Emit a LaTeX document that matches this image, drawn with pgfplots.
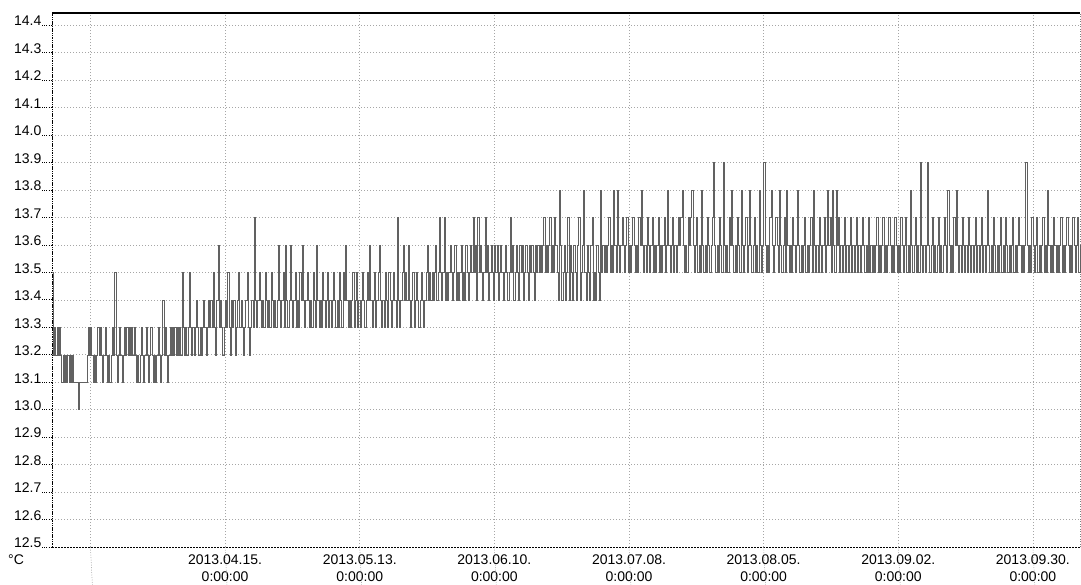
\documentclass[border=0pt]{standalone}
\usepackage{pgfplots}
\pgfplotsset{compat=1.18}
\usepackage{fontspec}
\setmainfont{Liberation Sans}
\begin{document}
\begin{tikzpicture}[x=1pt,y=1pt]
\useasboundingbox (0,0) rectangle (1081,585);
\begin{axis}[
  at={(52pt,38pt)}, anchor=south west,
  scale only axis, width=1028pt, height=534pt,
  xmin=-36, xmax=177.8, ymin=12.5, ymax=14.4436,
  xtick={0,28,56,84,112,140,168},
  xticklabels={{2013.04.15.\\0:00:00},{2013.05.13.\\0:00:00},{2013.06.10.\\0:00:00},{2013.07.08.\\0:00:00},{2013.08.05.\\0:00:00},{2013.09.02.\\0:00:00},{2013.09.30.\\0:00:00}},
  extra x ticks={-28}, extra x tick labels={},
  extra x tick style={grid=major},
  xticklabel style={align=center, font=\fontsize{14}{17}\selectfont, inner sep=1pt, yshift=3.5pt},
  ytick={12.5,12.6,12.7,12.8,12.9,13.0,13.1,13.2,13.3,13.4,13.5,13.6,13.7,13.8,13.9,14.0,14.1,14.2,14.3,14.4},
  yticklabel style={font=\fontsize{14}{16}\selectfont, inner sep=0.5pt, yshift=4pt, /pgf/number format/.cd, fixed, fixed zerofill, precision=1, assume math mode=true},
  tick pos=left, tick align=outside,
  x tick style={draw=none},
  y tick style={black, dotted, line width=0.6pt},
  major tick length=10pt,
  grid=major,
  major grid style={gray!70, dash pattern=on 1pt off 2pt, line width=0.5pt},
  axis line style={draw=none},
  clip=false,
]
% frame
\draw[black, line width=1.2pt] (rel axis cs:0,1) -- (rel axis cs:1,1);
\draw[black, line width=0.7pt, dash pattern=on 1.5pt off 0.8pt] (rel axis cs:0,0) -- (rel axis cs:0,1);
\draw[black, line width=0.7pt, dash pattern=on 2pt off 1pt] (rel axis cs:0,0) -- (rel axis cs:1,0);
\draw[gray, line width=0.5pt, dash pattern=on 1pt off 1.5pt] (rel axis cs:1,0) -- (rel axis cs:1,1);
% grid lines continuing through the date labels
\draw[gray!80, dash pattern=on 1pt off 1.5pt, line width=0.5pt] (axis cs:-28,12.5) -- ++(0,-16pt);
\draw[gray!80, dash pattern=on 1pt off 1.5pt, line width=0.5pt] (axis cs:0,12.5) -- ++(0,-38pt);
\draw[gray!80, dash pattern=on 1pt off 1.5pt, line width=0.5pt] (axis cs:28,12.5) -- ++(0,-38pt);
\draw[gray!80, dash pattern=on 1pt off 1.5pt, line width=0.5pt] (axis cs:56,12.5) -- ++(0,-38pt);
\draw[gray!80, dash pattern=on 1pt off 1.5pt, line width=0.5pt] (axis cs:84,12.5) -- ++(0,-38pt);
\draw[gray!80, dash pattern=on 1pt off 1.5pt, line width=0.5pt] (axis cs:112,12.5) -- ++(0,-38pt);
\draw[gray!80, dash pattern=on 1pt off 1.5pt, line width=0.5pt] (axis cs:140,12.5) -- ++(0,-38pt);
\draw[gray!80, dash pattern=on 1pt off 1.5pt, line width=0.5pt] (axis cs:168,12.5) -- ++(0,-38pt);
\addplot[const plot, black!62, line width=0.4pt] coordinates {
(-36,13.5) (-35.75,13.2) (-35.5,13.3) (-35.25,13.2) (-35,13.3) (-34.75,13.2) (-34.5,13.3) (-34.25,13.2)
(-34,13.1) (-33.75,13.2) (-33.5,13.1) (-33.25,13.2) (-33,13.1) (-32.75,13.2) (-32.5,13.1) (-32.25,13.2) (-32,13.1) (-31.75,13.2)
(-31.5,13.1) (-31.25,13.1) (-31,13.1) (-30.75,13.1) (-30.5,13.0) (-30.25,13.1) (-30,13.1) (-29.75,13.1) (-29.5,13.1) (-29.25,13.1) (-29,13.1) (-28.75,13.2)
(-28.5,13.3) (-28.25,13.2) (-28,13.3) (-27.75,13.2) (-27.5,13.1) (-27.25,13.2) (-27,13.1) (-26.75,13.2) (-26.5,13.3) (-26.25,13.2)
(-26,13.3) (-25.75,13.2) (-25.5,13.1) (-25.25,13.2) (-25,13.3) (-24.75,13.2) (-24.5,13.1) (-24.25,13.2) (-24,13.1) (-23.75,13.2)
(-23.5,13.3) (-23.25,13.2) (-23,13.5) (-22.75,13.2) (-22.5,13.1) (-22.25,13.2) (-22,13.3) (-21.75,13.2) (-21.5,13.1) (-21.25,13.2)
(-21,13.3) (-20.75,13.2) (-20.5,13.3) (-20.25,13.2) (-20,13.3) (-19.75,13.2) (-19.5,13.3) (-19.25,13.2) (-19,13.3) (-18.75,13.2)
(-18.5,13.1) (-18.25,13.2) (-18,13.1) (-17.75,13.2) (-17.5,13.3) (-17.25,13.2) (-17,13.1) (-16.75,13.2) (-16.5,13.3) (-16.25,13.2)
(-16,13.1) (-15.75,13.2) (-15.5,13.3) (-15.25,13.2) (-15,13.1) (-14.75,13.2) (-14.5,13.1) (-14.25,13.2) (-14,13.3) (-13.75,13.2)
(-13.5,13.1) (-13.25,13.2) (-13,13.4) (-12.75,13.2) (-12.5,13.3) (-12.25,13.2) (-12,13.1) (-11.75,13.2) (-11.5,13.3) (-11.25,13.2)
(-11,13.3) (-10.75,13.2) (-10.5,13.3) (-10.25,13.2) (-10,13.3) (-9.75,13.2) (-9.5,13.3) (-9.25,13.2)
(-9,13.5) (-8.75,13.3) (-8.5,13.2) (-8.25,13.3) (-8,13.2) (-7.75,13.3) (-7.5,13.5) (-7.25,13.3)
(-7,13.2) (-6.75,13.3) (-6.5,13.2) (-6.25,13.3) (-6,13.4) (-5.75,13.3) (-5.5,13.2) (-5.25,13.3)
(-5,13.2) (-4.75,13.3) (-4.5,13.4) (-4.25,13.3) (-4,13.2) (-3.75,13.3) (-3.5,13.4) (-3.25,13.3) (-3,13.4) (-2.75,13.3)
(-2.5,13.5) (-2.25,13.3) (-2,13.2) (-1.75,13.4) (-1.5,13.6) (-1.25,13.3) (-1,13.4) (-0.75,13.3) (-0.5,13.2) (-0.25,13.3)
(0,13.4) (0.25,13.3) (0.5,13.5) (0.75,13.3) (1,13.2) (1.25,13.4) (1.5,13.3) (1.75,13.4) (2,13.2) (2.25,13.3)
(2.5,13.4) (2.75,13.5) (3,13.3) (3.25,13.4) (3.5,13.3) (3.75,13.2) (4,13.3) (4.25,13.4) (4.5,13.5) (4.75,13.3)
(5,13.2) (5.25,13.3) (5.5,13.4) (5.75,13.3)
(6,13.7) (6.25,13.4) (6.5,13.3) (6.75,13.4) (7,13.5) (7.25,13.4) (7.5,13.3) (7.75,13.4) (8,13.3) (8.25,13.5)
(8.5,13.4) (8.75,13.3) (9,13.4) (9.25,13.3) (9.5,13.5) (9.75,13.4) (10,13.3) (10.25,13.4) (10.5,13.3) (10.75,13.4)
(11,13.6) (11.25,13.4) (11.5,13.3) (11.75,13.4) (12,13.5) (12.25,13.3) (12.5,13.6) (12.75,13.4) (13,13.3) (13.25,13.4)
(13.5,13.6) (13.75,13.4) (14,13.3) (14.25,13.4) (14.5,13.5) (14.75,13.3) (15,13.4) (15.25,13.3) (15.5,13.5) (15.75,13.4)
(16,13.6) (16.25,13.4) (16.5,13.3) (16.75,13.4) (17,13.5) (17.25,13.4) (17.5,13.3) (17.75,13.4) (18,13.3) (18.25,13.5)
(18.5,13.4) (18.75,13.3) (19,13.6) (19.25,13.4) (19.5,13.3) (19.75,13.4) (20,13.3) (20.25,13.5) (20.5,13.4) (20.75,13.3)
(21,13.4) (21.25,13.5) (21.5,13.3) (21.75,13.4) (22,13.3) (22.25,13.4) (22.5,13.5) (22.75,13.4) (23,13.3) (23.25,13.4)
(23.5,13.3) (23.75,13.5) (24,13.4) (24.25,13.3) (24.5,13.5) (24.75,13.4) (25,13.6) (25.25,13.4) (25.5,13.3) (25.75,13.4)
(26,13.3) (26.25,13.4) (26.5,13.5) (26.75,13.3) (27,13.4) (27.25,13.5) (27.5,13.3) (27.75,13.4) (28,13.3) (28.25,13.4)
(28.5,13.5) (28.75,13.4) (29,13.3) (29.25,13.4) (29.5,13.5) (29.75,13.4) (30,13.6) (30.25,13.4) (30.5,13.3) (30.75,13.4)
(31,13.5) (31.25,13.3) (31.5,13.4) (31.75,13.5) (32,13.6) (32.25,13.4) (32.5,13.3) (32.75,13.4) (33,13.3) (33.25,13.5)
(33.5,13.4) (33.75,13.3) (34,13.5) (34.25,13.4) (34.5,13.3) (34.75,13.4) (35,13.5) (35.25,13.4) (35.5,13.3) (35.75,13.7)
(36,13.4) (36.25,13.3) (36.5,13.4) (36.75,13.5) (37,13.6) (37.25,13.4) (37.5,13.5) (37.75,13.4) (38,13.6) (38.25,13.4)
(38.5,13.3) (38.75,13.4) (39,13.5) (39.25,13.3) (39.5,13.4) (39.75,13.5) (40,13.4) (40.25,13.3) (40.5,13.4) (40.75,13.5)
(41,13.4) (41.25,13.3) (41.5,13.4) (41.75,13.5) (42,13.6) (42.25,13.4)
(42.5,13.5) (42.75,13.4) (43,13.5) (43.25,13.4) (43.5,13.5) (43.75,13.6) (44,13.4) (44.25,13.5) (44.5,13.7) (44.75,13.5)
(45,13.4) (45.25,13.5) (45.5,13.7) (45.75,13.4) (46,13.5) (46.25,13.4) (46.5,13.5) (46.75,13.6) (47,13.5) (47.25,13.4)
(47.5,13.5) (47.75,13.6) (48,13.4) (48.25,13.5) (48.5,13.4) (48.75,13.5) (49,13.6) (49.25,13.4) (49.5,13.5) (49.75,13.4)
(50,13.6) (50.25,13.5) (50.5,13.4) (50.75,13.5) (51,13.6) (51.25,13.5) (51.5,13.7) (51.75,13.5) (52,13.6) (52.25,13.4)
(52.5,13.7) (52.75,13.5) (53,13.6) (53.25,13.5) (53.5,13.4) (53.75,13.5) (54,13.7) (54.25,13.5) (54.5,13.6) (54.75,13.4)
(55,13.5) (55.25,13.6) (55.5,13.5) (55.75,13.4) (56,13.6) (56.25,13.5) (56.5,13.6) (56.75,13.4) (57,13.5) (57.25,13.6)
(57.5,13.5) (57.75,13.4) (58,13.5) (58.25,13.6) (58.5,13.5) (58.75,13.4) (59,13.5) (59.25,13.7) (59.5,13.5) (59.75,13.6)
(60,13.4) (60.25,13.5) (60.5,13.6) (60.75,13.5) (61,13.4) (61.25,13.6) (61.5,13.5) (61.75,13.6) (62,13.4) (62.25,13.5)
(62.5,13.6) (62.75,13.5) (63,13.4) (63.25,13.6) (63.5,13.5) (63.75,13.6) (64,13.5) (64.25,13.4) (64.5,13.6) (64.75,13.5)
(65,13.6) (65.25,13.5) (65.5,13.6) (65.75,13.5) (66,13.6) (66.25,13.7) (66.5,13.5) (66.75,13.6) (67,13.5) (67.25,13.6)
(67.5,13.7) (67.75,13.5) (68,13.6) (68.25,13.5) (68.5,13.7) (68.75,13.6)
(69,13.5) (69.25,13.4) (69.5,13.8) (69.75,13.6) (70,13.4) (70.25,13.5) (70.5,13.6) (70.75,13.4) (71,13.5) (71.25,13.7)
(71.5,13.4) (71.75,13.6) (72,13.5) (72.25,13.4) (72.5,13.6) (72.75,13.5) (73,13.4) (73.25,13.6) (73.5,13.7) (73.75,13.4)
(74,13.5) (74.25,13.6) (74.5,13.8) (74.75,13.5) (75,13.4) (75.25,13.6) (75.5,13.5) (75.75,13.4) (76,13.6) (76.25,13.7)
(76.5,13.4) (76.75,13.5) (77,13.4) (77.25,13.6) (77.5,13.5) (77.75,13.4) (78,13.8) (78.25,13.5) (78.5,13.6) (78.75,13.5)
(79,13.6) (79.25,13.5) (79.5,13.6) (79.75,13.7) (80,13.5) (80.25,13.6) (80.5,13.5) (80.75,13.8) (81,13.6) (81.25,13.5)
(81.5,13.8) (81.75,13.6) (82,13.5) (82.25,13.6) (82.5,13.7) (82.75,13.6) (83,13.5) (83.25,13.6) (83.5,13.7) (83.75,13.5)
(84,13.6) (84.25,13.5) (84.5,13.6) (84.75,13.7) (85,13.6) (85.25,13.5) (85.5,13.6) (85.75,13.5) (86,13.7) (86.25,13.6)
(86.5,13.8) (86.75,13.6) (87,13.5) (87.25,13.6) (87.5,13.5) (87.75,13.7) (88,13.6) (88.25,13.5) (88.5,13.6) (88.75,13.7)
(89,13.5) (89.25,13.6) (89.5,13.5) (89.75,13.6) (90,13.7) (90.25,13.5) (90.5,13.6) (90.75,13.5) (91,13.6) (91.25,13.7)
(91.5,13.5) (91.75,13.6) (92,13.8) (92.25,13.6) (92.5,13.5) (92.75,13.6) (93,13.7) (93.25,13.5) (93.5,13.6) (93.75,13.5)
(94,13.6) (94.25,13.7) (94.5,13.6) (94.75,13.7) (95,13.8) (95.25,13.6) (95.5,13.5) (95.75,13.6) (96,13.5) (96.25,13.7)
(96.5,13.6) (96.75,13.7) (97,13.8) (97.25,13.6) (97.5,13.5) (97.75,13.6) (98,13.7) (98.25,13.5) (98.5,13.6) (98.75,13.5)
(99,13.8) (99.25,13.6) (99.5,13.5) (99.75,13.6) (100,13.5) (100.25,13.7) (100.5,13.6) (100.75,13.5) (101,13.6) (101.25,13.7)
(101.5,13.9) (101.75,13.6) (102,13.5) (102.25,13.6) (102.5,13.5) (102.75,13.7) (103,13.6) (103.25,13.5) (103.5,13.9) (103.75,13.6)
(104,13.5) (104.25,13.6) (104.5,13.5) (104.75,13.7) (105,13.6) (105.25,13.8) (105.5,13.6) (105.75,13.5) (106,13.6) (106.25,13.5)
(106.5,13.7) (106.75,13.6) (107,13.5) (107.25,13.8) (107.5,13.6) (107.75,13.5) (108,13.6) (108.25,13.7) (108.5,13.5) (108.75,13.6)
(109,13.8) (109.25,13.6) (109.5,13.5) (109.75,13.6) (110,13.7) (110.25,13.5) (110.5,13.6) (110.75,13.5) (111,13.8) (111.25,13.6)
(111.5,13.5) (111.75,13.6) (112,13.9) (112.25,13.6) (112.5,13.5) (112.75,13.6) (113,13.5) (113.25,13.7) (113.5,13.8) (113.75,13.6)
(114,13.5) (114.25,13.6) (114.5,13.7) (114.75,13.6) (115,13.5) (115.25,13.8) (115.5,13.6) (115.75,13.5) (116,13.6) (116.25,13.7)
(116.5,13.5) (116.75,13.8) (117,13.6) (117.25,13.5) (117.5,13.6) (117.75,13.5) (118,13.7) (118.25,13.6) (118.5,13.5) (118.75,13.6)
(119,13.8) (119.25,13.6) (119.5,13.5) (119.75,13.6) (120,13.5) (120.25,13.6) (120.5,13.7) (120.75,13.5) (121,13.6) (121.25,13.5)
(121.5,13.6) (121.75,13.7) (122,13.5) (122.25,13.8) (122.5,13.6) (122.75,13.5) (123,13.6) (123.25,13.5) (123.5,13.7) (123.75,13.6)
(124,13.5) (124.25,13.6) (124.5,13.7) (124.75,13.5) (125,13.6) (125.25,13.8) (125.5,13.6) (125.75,13.7) (126,13.5) (126.25,13.8)
(126.5,13.6) (126.75,13.5) (127,13.8) (127.25,13.6) (127.5,13.7) (127.75,13.5) (128,13.6) (128.25,13.5) (128.5,13.6) (128.75,13.7)
(129,13.5) (129.25,13.6) (129.5,13.5) (129.75,13.6) (130,13.7) (130.25,13.5) (130.5,13.6) (130.75,13.5) (131,13.6) (131.25,13.7)
(131.5,13.5) (131.75,13.6) (132,13.5) (132.25,13.6) (132.5,13.7) (132.75,13.6) (133,13.5) (133.25,13.6) (133.5,13.5) (133.75,13.7)
(134,13.5) (134.25,13.6) (134.5,13.5) (134.75,13.6) (135,13.5) (135.25,13.6) (135.5,13.7) (135.75,13.5) (136,13.6) (136.25,13.5)
(136.5,13.6) (136.75,13.7) (137,13.5) (137.25,13.6) (137.5,13.5) (137.75,13.6) (138,13.7) (138.25,13.6) (138.5,13.5) (138.75,13.6)
(139,13.5) (139.25,13.7) (139.5,13.6) (139.75,13.5) (140,13.6) (140.25,13.5) (140.5,13.7) (140.75,13.6) (141,13.5) (141.25,13.6)
(141.5,13.7) (141.75,13.5) (142,13.6) (142.25,13.5) (142.5,13.8) (142.75,13.6) (143,13.5) (143.25,13.6) (143.5,13.7) (143.75,13.5)
(144,13.6) (144.25,13.5) (144.5,13.9) (144.75,13.6) (145,13.5) (145.25,13.6) (145.5,13.5) (145.75,13.6) (146,13.9) (146.25,13.6)
(146.5,13.5) (146.75,13.6) (147,13.7) (147.25,13.5) (147.5,13.6) (147.75,13.5) (148,13.6) (148.25,13.7) (148.5,13.5) (148.75,13.6)
(149,13.5) (149.25,13.6) (149.5,13.7) (149.75,13.6) (150,13.5) (150.25,13.8) (150.5,13.6) (150.75,13.5) (151,13.6) (151.25,13.5)
(151.5,13.7) (151.75,13.6) (152,13.8) (152.25,13.6) (152.5,13.5) (152.75,13.6) (153,13.5) (153.25,13.7) (153.5,13.6) (153.75,13.5)
(154,13.6) (154.25,13.5) (154.5,13.7) (154.75,13.6) (155,13.5) (155.25,13.6) (155.5,13.5) (155.75,13.6) (156,13.7) (156.25,13.5)
(156.5,13.6) (156.75,13.5) (157,13.6) (157.25,13.7) (157.5,13.5) (157.75,13.6) (158,13.5) (158.25,13.6) (158.5,13.8) (158.75,13.6)
(159,13.5) (159.25,13.6) (159.5,13.5) (159.75,13.7) (160,13.6) (160.25,13.5) (160.5,13.6) (160.75,13.5) (161,13.6) (161.25,13.7)
(161.5,13.5) (161.75,13.6) (162,13.5) (162.25,13.7) (162.5,13.6) (162.75,13.5) (163,13.6) (163.25,13.5) (163.5,13.6) (163.75,13.7)
(164,13.5) (164.25,13.6) (164.5,13.5) (164.75,13.6) (165,13.7) (165.25,13.6) (165.5,13.5) (165.75,13.6) (166,13.5) (166.25,13.6)
(166.5,13.9) (166.75,13.6) (167,13.5) (167.25,13.6) (167.5,13.5) (167.75,13.7) (168,13.6) (168.25,13.5) (168.5,13.6) (168.75,13.7)
(169,13.5) (169.25,13.6) (169.5,13.5) (169.75,13.6) (170,13.7) (170.25,13.5) (170.5,13.6) (170.75,13.5) (171,13.8) (171.25,13.6)
(171.5,13.5) (171.75,13.6) (172,13.5) (172.25,13.7) (172.5,13.6) (172.75,13.5) (173,13.6) (173.25,13.5) (173.5,13.6) (173.75,13.7)
(174,13.5) (174.25,13.6) (174.5,13.5) (174.75,13.6) (175,13.7) (175.25,13.6) (175.5,13.5) (175.75,13.6) (176,13.5) (176.25,13.7)
(176.5,13.6) (176.75,13.5) (177,13.6) (177.25,13.7) (177.5,13.5) (177.75,13.6) (177.8,13.6)
};
\end{axis}
\node[anchor=west, font=\fontsize{14}{16}\selectfont, inner sep=0pt] at (8,25) {°C};
\end{tikzpicture}
\end{document}
